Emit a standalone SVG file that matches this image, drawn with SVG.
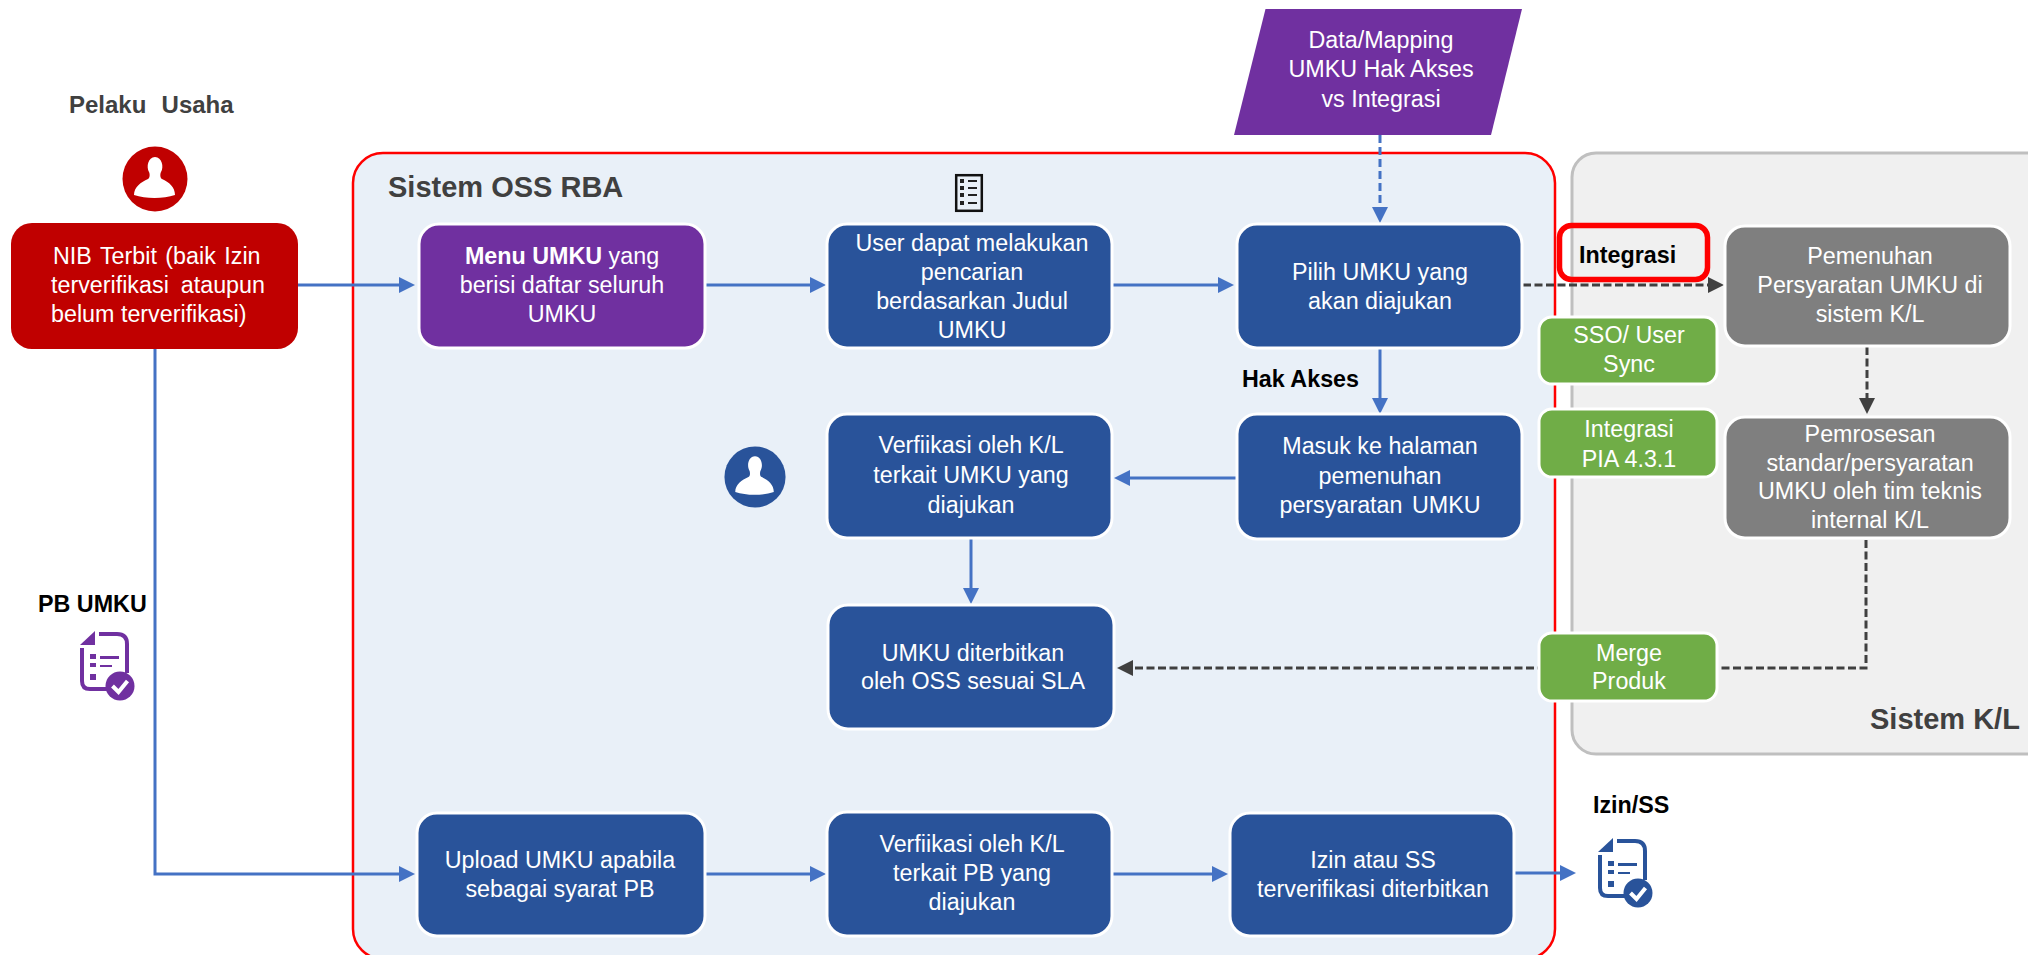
<svg xmlns="http://www.w3.org/2000/svg" xmlns:xlink="http://www.w3.org/1999/xlink" width="2028" height="955" viewBox="0 0 2028 955">
<style>
text{font-family:"Liberation Sans",Arial,sans-serif;font-size:23.3px}
.w{fill:#fff;text-anchor:middle}
.b{font-weight:700;fill:#000}
.h{font-weight:700;fill:#404040}
.box{stroke:#fff;stroke-width:3}
.blue{fill:#29539A}
.purple{fill:#7030A0}
.gray{fill:#7F7F7F}
.green{fill:#70AD47}
.c{fill:none;stroke-width:3}
.cb{stroke:#4472C4;marker-end:url(#ab)}
.cd{stroke:#404040;stroke-dasharray:8 3.5;marker-end:url(#ad)}
</style>
<defs>
<marker id="ab" markerUnits="userSpaceOnUse" markerWidth="18" markerHeight="18" refX="8" refY="8" orient="auto"><path d="M0,0L16,8L0,16z" fill="#4472C4"/></marker>
<marker id="ad" markerUnits="userSpaceOnUse" markerWidth="18" markerHeight="18" refX="8" refY="8" orient="auto"><path d="M0,0L16,8L0,16z" fill="#404040"/></marker>
<g id="person">
<circle r="32.5"/>
<path fill="#fff" d="M-21,16C-21,8-14,3-7,0C-5,-1-5,-5-6,-7C-9,-12-7,-22 0,-22C7,-22 9,-12 6,-7C5,-5 5,-1 7,0C14,3 20,8 20,16C8,20-9,20-21,16Z"/>
</g>
<g id="doc">
<path d="M0,14H15V0z"/>
<path fill="none" stroke-width="4" d="M19,3H37Q47,3 47,13V42M2,17V50Q2,58 10,58H27"/>
<path d="M10,23h6v5h-6zM10,32h6v4h-6zM10,43h6v6h-6zM20,25h19v3H20zM20,34h12v2H20z"/>
<circle cx="40" cy="55" r="14.5"/>
<path fill="none" stroke="#fff" stroke-width="4" d="M32.500,55L38.500,61L47.500,50"/>
</g>
</defs>

<g id="frames">
<rect id="frame-oss" x="353" y="153" width="1202" height="806" rx="30" fill="#E9F0F8" stroke="#FF0000" stroke-width="2.5"/>
<rect id="frame-kl" x="1572" y="153" width="480" height="601" rx="24" fill="#F0F0F0" stroke="#BFBFBF" stroke-width="3"/>
<text class="h" x="388" y="197" style="font-size:29px">Sistem OSS RBA</text>
<text class="h" x="1870" y="729" style="font-size:29px">Sistem K/L</text>
</g>

<g id="connectors">
<path class="c cb" d="M298,285H407"/>
<path class="c cb" d="M705,285H818"/>
<path class="c cb" d="M1112,285H1226"/>
<path class="c cb" d="M1380,348V406"/>
<path class="c cb" d="M1237,478H1122"/>
<path class="c cb" d="M971,539V596"/>
<path class="c cb" d="M155,349V874H407"/>
<path class="c cb" d="M705,874H818"/>
<path class="c cb" d="M1112,874H1220"/>
<path class="c cb" d="M1515,873H1568"/>
<path class="c cb" d="M1380,135V215" stroke-dasharray="8 4"/>
<path class="c cd" d="M1523,285H1716"/>
<path class="c cd" d="M1867,347V406"/>
<path class="c cd" d="M1866,540V668H1125"/>
</g>

<g id="data-mapping"><path class="purple" d="M1265.5,9H1522L1491,135H1234z"/>
<text class="w" x="1381"><tspan x="1381" y="48">Data/Mapping</tspan><tspan x="1381" y="77">UMKU Hak Akses</tspan><tspan x="1381" y="107">vs Integrasi</tspan></text></g>

<g id="pelaku-usaha">
<text class="h" x="69" y="113" style="font-size:24px;word-spacing:8.500px">Pelaku Usaha</text>
<use href="#person" transform="translate(155,179)" fill="#C00000"/>
</g>

<g id="nib"><rect x="11" y="223" width="287" height="126" rx="21" fill="#C00000"/>
<text fill="#fff"><tspan x="53" y="264" word-spacing="2">NIB Terbit (baik Izin</tspan><tspan x="51" y="293" word-spacing="5.5">terverifikasi ataupun</tspan><tspan x="51" y="322">belum terverifikasi)</tspan></text></g>

<g id="menu-umku"><rect class="box purple" x="419" y="224" width="286" height="124" rx="20"/>
<text class="w"><tspan x="562" y="264"><tspan font-weight="700">Menu UMKU</tspan> yang</tspan><tspan x="562" y="293">berisi daftar seluruh</tspan><tspan x="562" y="322">UMKU</tspan></text></g>

<g id="user-cari"><rect class="box blue" x="827" y="224" width="285" height="124" rx="20"/>
<text class="w"><tspan x="972" y="251">User dapat melakukan</tspan><tspan x="972" y="280">pencarian</tspan><tspan x="972" y="309">berdasarkan Judul</tspan><tspan x="972" y="338">UMKU</tspan></text></g>

<g id="checklist">
<rect x="956.2" y="175.2" width="25.6" height="35.6" fill="none" stroke="#111" stroke-width="2.5"/>
<path fill="#222" d="M960,179h4v4h-4zM960,186h4v4h-4zM960,193h4v4h-4zM960,201h4v4h-4zM968,180h9v2h-9zM968,187h9v2h-9zM968,194h9v2h-9zM968,202h9v2h-9z"/>
</g>

<g id="pilih"><rect class="box blue" x="1237" y="224" width="285" height="124" rx="20"/>
<text class="w"><tspan x="1380" y="280">Pilih UMKU yang</tspan><tspan x="1380" y="309">akan diajukan</tspan></text></g>

<g id="masuk"><rect class="box blue" x="1237" y="414" width="285" height="125" rx="20"/>
<text class="w"><tspan x="1380" y="454">Masuk ke halaman</tspan><tspan x="1380" y="484">pemenuhan</tspan><tspan x="1380" y="513" word-spacing="3">persyaratan UMKU</tspan></text></g>

<g id="verif-umku"><rect class="box blue" x="827" y="414" width="285" height="124" rx="20"/>
<text class="w"><tspan x="971" y="453">Verfiikasi oleh K/L</tspan><tspan x="971" y="483">terkait UMKU yang</tspan><tspan x="971" y="513">diajukan</tspan></text></g>

<g id="person-kl"><use href="#person" transform="translate(755,477) scale(.94)" fill="#29539A"/></g>

<g id="umku-terbit"><rect class="box blue" x="828" y="605" width="286" height="124" rx="20"/>
<text class="w"><tspan x="973" y="661">UMKU diterbitkan</tspan><tspan x="973" y="689">oleh OSS sesuai SLA</tspan></text></g>

<g id="upload"><rect class="box blue" x="417" y="813" width="288" height="123" rx="20"/>
<text class="w"><tspan x="560" y="868">Upload UMKU apabila</tspan><tspan x="560" y="897">sebagai syarat PB</tspan></text></g>

<g id="verif-pb"><rect class="box blue" x="827" y="812" width="285" height="124" rx="20"/>
<text class="w"><tspan x="972" y="852">Verfiikasi oleh K/L</tspan><tspan x="972" y="881">terkait PB yang</tspan><tspan x="972" y="910">diajukan</tspan></text></g>

<g id="izin-ss"><rect class="box blue" x="1230" y="813" width="284" height="123" rx="20"/>
<text class="w"><tspan x="1373" y="868">Izin atau SS</tspan><tspan x="1373" y="897">terverifikasi diterbitkan</tspan></text></g>

<g id="pemenuhan"><rect class="box gray" x="1725" y="226" width="285" height="120" rx="20"/>
<text class="w"><tspan x="1870" y="264">Pemenuhan</tspan><tspan x="1870" y="293">Persyaratan UMKU di</tspan><tspan x="1870" y="322">sistem K/L</tspan></text></g>

<g id="pemrosesan"><rect class="box gray" x="1725" y="417" width="285" height="121" rx="20"/>
<text class="w"><tspan x="1870" y="442">Pemrosesan</tspan><tspan x="1870" y="471">standar/persyaratan</tspan><tspan x="1870" y="499">UMKU oleh tim teknis</tspan><tspan x="1870" y="528">internal K/L</tspan></text></g>

<g id="sso"><rect class="box green" x="1539" y="317" width="178" height="67" rx="13"/>
<text class="w"><tspan x="1629" y="343">SSO/ User</tspan><tspan x="1629" y="372">Sync</tspan></text></g>

<g id="pia"><rect class="box green" x="1539" y="409" width="178" height="68" rx="13"/>
<text class="w"><tspan x="1629" y="437">Integrasi</tspan><tspan x="1629" y="467">PIA 4.3.1</tspan></text></g>

<g id="merge"><rect class="box green" x="1539" y="633" width="178" height="68" rx="13"/>
<text class="w"><tspan x="1629" y="661">Merge</tspan><tspan x="1629" y="689">Produk</tspan></text></g>

<g id="integrasi">
<rect x="1559.5" y="225.5" width="148" height="54" rx="12" fill="none" stroke="#FF0000" stroke-width="5.5"/>
<text class="b" x="1579" y="263">Integrasi</text>
</g>

<g id="hak-akses"><text class="b" x="1242" y="387">Hak Akses</text></g>

<g id="pb-umku">
<text class="b" x="38" y="612">PB UMKU</text>
<use href="#doc" transform="translate(80,631)" fill="#7030A0" stroke="#7030A0" stroke-width="0"/>
</g>

<g id="izin-label">
<text class="b" x="1593" y="813">Izin/SS</text>
<use href="#doc" transform="translate(1598,838)" fill="#29539A" stroke="#29539A" stroke-width="0"/>
</g>
</svg>
